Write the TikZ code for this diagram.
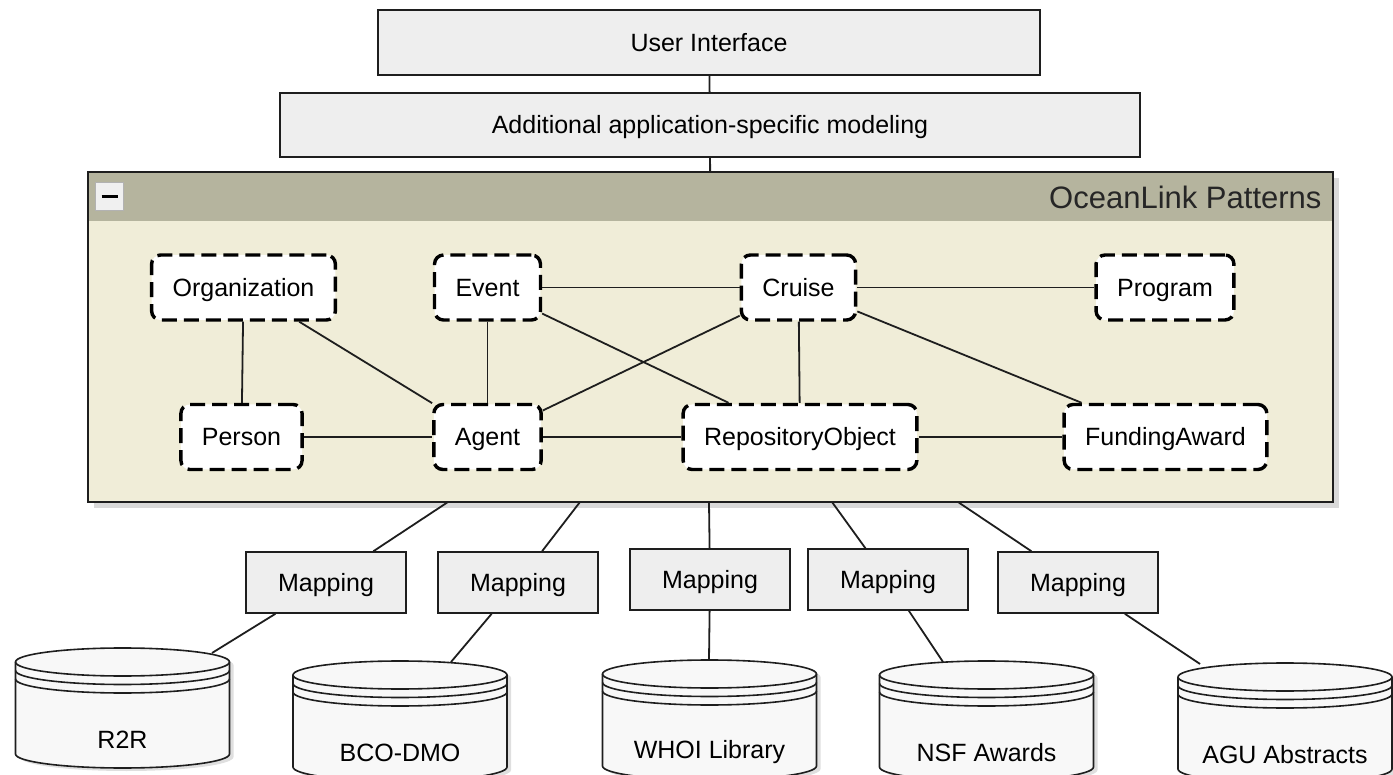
\documentclass[tikz,border=0pt]{standalone}
\usepackage{fontspec}
\setmainfont{Liberation Sans}
\usepackage{tikz}
\usetikzlibrary{shadows}
\definecolor{layergray}{HTML}{EEEEEE}
\definecolor{pkghead}{HTML}{B5B49E}
\definecolor{pkgbody}{HTML}{F0EDD8}
\definecolor{dbfill}{HTML}{F8F8F8}
\definecolor{inkline}{HTML}{1E1E1E}
\tikzset{
	layer/.style={rectangle, draw=inkline, line width=1.6pt, fill=layergray, inner sep=0pt, text height=20pt, text depth=2pt, font=\fontsize{25}{30}\selectfont},
	patternbox/.style={rectangle, rounded corners=9pt, draw=black, line width=3.4pt, dash pattern=on 15pt off 7pt, fill=white, minimum height=65pt, inner xsep=21pt, text height=20pt, text depth=2pt, font=\fontsize{25}{30}\selectfont},
	mapbox/.style={layer, minimum width=160pt, minimum height=61pt},
	link/.style={draw=inkline, line width=1.8pt},
	dbshape/.style={draw=inkline, line width=1.6pt, fill=dbfill, drop shadow={shadow xshift=4pt, shadow yshift=-3pt, opacity=0.25}}
}
% database drum: name, centre x, y of lid centre, label
\newcommand\dbstack[4]{%
	\filldraw[dbshape] (#2-107,#3) -- (#2-107,#3+92) arc[start angle=180, end angle=360, x radius=107pt, y radius=14pt] -- (#2+107,#3) arc[start angle=0, end angle=180, x radius=107pt, y radius=14pt] -- cycle;
	\foreach \s in {0,8.5,17}
		\draw[link, line width=1.6pt] (#2-107,#3+\s) arc[start angle=180, end angle=360, x radius=107pt, y radius=14pt];
	\node[font=\fontsize{25}{30}\selectfont] (#1) at (#2,#3+78) {#4};
}

\begin{document}
\begin{tikzpicture}[x=1pt, y=-1pt]
	\useasboundingbox (0,0) rectangle (1393,775);

	% Upper layers
	\node[layer, minimum width=662pt, minimum height=65pt] (ui) at (709,42.5) {User Interface};
	\node[layer, minimum width=860pt, minimum height=64pt] (add) at (710,125) {Additional application-specific modeling};

	% Package frame
	\node[draw=inkline, line width=1.6pt, fill=pkgbody, outer sep=0pt, minimum width=1245pt, minimum height=330pt, drop shadow={shadow xshift=6pt, shadow yshift=-6pt, opacity=0.3}] (pkg) at (710.5,337) {};
	\fill[pkghead] (pkg.north west) rectangle ([yshift=-49pt]pkg.north east);
	\draw[draw=inkline, line width=1.6pt] (pkg.north west) rectangle (pkg.south east);
	\node[anchor=east, font=\fontsize{31}{36}\selectfont, text=black!85] (pkgtitle) at ([xshift=-8pt,yshift=-25pt]pkg.north east) {OceanLink Patterns};
	\node[draw=gray!60, fill=gray!12, line width=1pt, minimum size=28pt, inner sep=0pt, anchor=north west] (fold) at ([xshift=7pt,yshift=-10pt]pkg.north west) {};
	\draw[line width=3pt] ([xshift=-8pt]fold.center) -- ([xshift=8pt]fold.center);

	\draw[link] (ui) -- (add);
	\draw[link] (add) -- (pkg);

	% Patterns
	\node[patternbox] (org) at (243.5,287.5) {Organization};
	\node[patternbox] (event) at (487.5,287.5) {Event};
	\node[patternbox] (cruise) at (798.5,287.5) {Cruise};
	\node[patternbox] (program) at (1165,287.5) {Program};
	\node[patternbox] (person) at (241.5,437) {Person};
	\node[patternbox] (agent) at (487.5,437) {Agent};
	\node[patternbox] (repo) at (800,437) {RepositoryObject};
	\node[patternbox] (funding) at (1165.5,437) {FundingAward};

	\draw[link] (org) -- (person);
	\draw[link] (org) -- (agent);
	\draw[link] (event) -- (agent);
	\draw[link] (event) -- (cruise);
	\draw[link] (event) -- (repo);
	\draw[link] (cruise) -- (agent);
	\draw[link] (cruise) -- (repo);
	\draw[link] (cruise) -- (program);
	\draw[link] (cruise) -- (funding);
	\draw[link] (person) -- (agent);
	\draw[link] (agent) -- (repo);
	\draw[link] (repo) -- (funding);

	% Mappings
	\node[mapbox] (map1) at (326,582.5) {Mapping};
	\node[mapbox] (map2) at (518,582.5) {Mapping};
	\node[mapbox] (map3) at (710,579.5) {Mapping};
	\node[mapbox] (map4) at (888,579.5) {Mapping};
	\node[mapbox] (map5) at (1078,582.5) {Mapping};

	\coordinate (pb1) at (448,502);
	\coordinate (pb2) at (580,502);
	\coordinate (pb3) at (709,502);
	\coordinate (pb4) at (832,502);
	\coordinate (pb5) at (958,502);
	\foreach \i in {1,...,5}
		\draw[link] (pb\i) -- (map\i);

	% Sources
	\dbstack{r2r}{122.5}{662}{R2R}
	\dbstack{bcodmo}{400}{675}{BCO-DMO}
	\dbstack{whoi}{709.5}{674}{WHOI Library}
	\dbstack{nsf}{986.5}{675}{NSF Awards}
	\dbstack{agu}{1285}{677}{AGU Abstracts}

	\coordinate (r2rlid) at (212,653);
	\coordinate (bcodmolid) at (451,662);
	\coordinate (whoilid) at (709,660);
	\coordinate (nsflid) at (943,662);
	\coordinate (agulid) at (1200,664);
	\draw[link] (map1) -- (r2rlid);
	\draw[link] (map2) -- (bcodmolid);
	\draw[link] (map3) -- (whoilid);
	\draw[link] (map4) -- (nsflid);
	\draw[link] (map5) -- (agulid);
\end{tikzpicture}
\end{document}
